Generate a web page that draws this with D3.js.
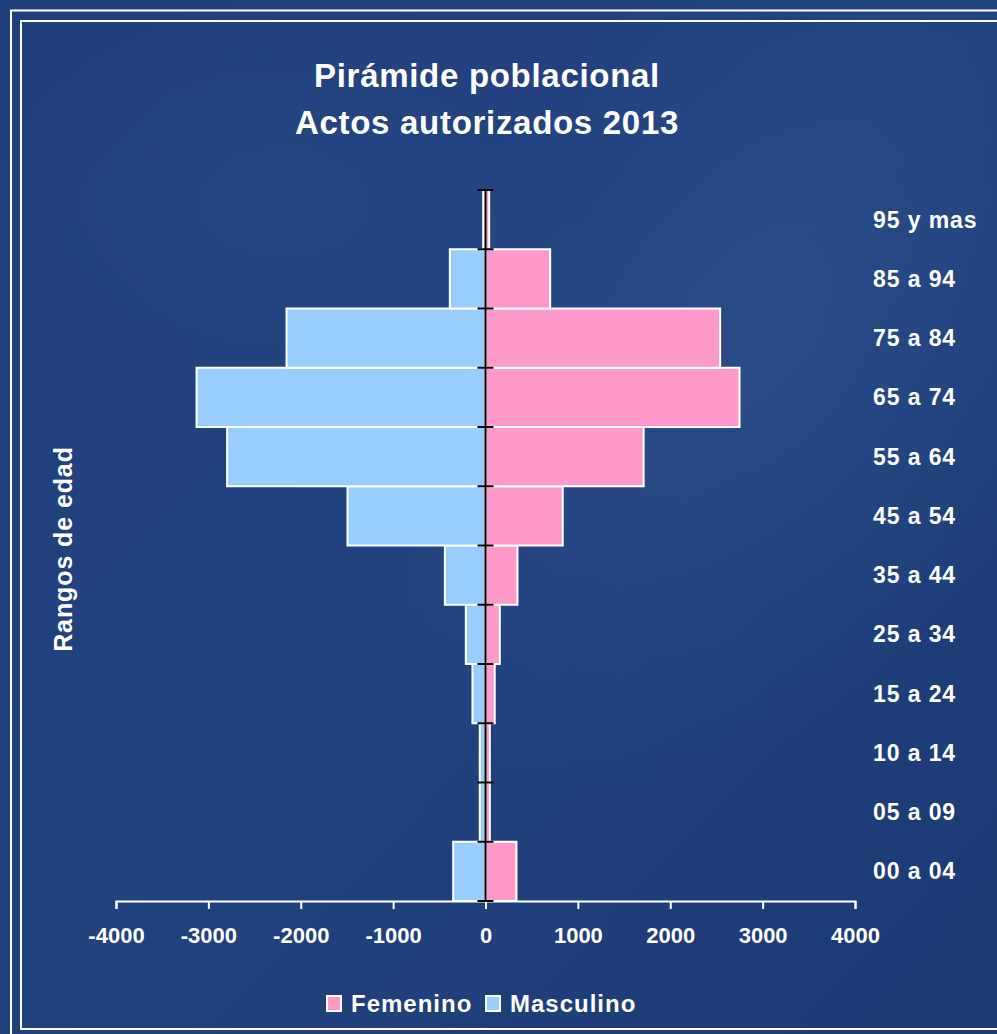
<!DOCTYPE html>
<html>
<head>
<meta charset="utf-8">
<script src="https://cdn.jsdelivr.net/npm/d3@7"></script>
<style>
html,body{margin:0;padding:0;background:#1f3d79;}
svg{display:block;}
text{font-family:"Liberation Sans",Arial,sans-serif;font-weight:bold;fill:#fff;}
</style>
</head>
<body>
<svg id="chart" width="997" height="1034"></svg>
<script>
const categories = ["00 a 04","05 a 09","10 a 14","15 a 24","25 a 34","35 a 44","45 a 54","55 a 64","65 a 74","75 a 84","85 a 94","95 y mas"];
const femenino  = [335, 47, 47, 100, 155, 346, 836, 1712, 2750, 2540, 700, 40];
const masculino = [-350, -62, -62, -141, -213, -440, -1494, -2797, -3128, -2154, -386, -25];
const xTicks = [-4000,-3000,-2000,-1000,0,1000,2000,3000,4000];
const titleLines = ["Pirámide poblacional","Actos autorizados 2013"];
const yTitle = "Rangos de edad";
const legendItems = [{name:"Femenino",color:"#ff99cc"},{name:"Masculino",color:"#99ccff"}];

const svg = d3.select("#chart");
const W = 997, H = 1034;

// background
const defs = svg.append("defs");
const lg = defs.append("linearGradient").attr("id","bg").attr("x1","0").attr("y1","0").attr("x2","1").attr("y2","1");
lg.append("stop").attr("offset","0").attr("stop-color","#213f7c");
lg.append("stop").attr("offset","0.5").attr("stop-color","#22427f");
lg.append("stop").attr("offset","1").attr("stop-color","#1c3a74");
svg.append("rect").attr("width",W).attr("height",H).attr("fill","url(#bg)");
const rg = defs.append("radialGradient").attr("id","swirl").attr("cx","0.5").attr("cy","0.5").attr("r","0.5");
rg.append("stop").attr("offset","0").attr("stop-color","#3a5f9c").attr("stop-opacity","0.35");
rg.append("stop").attr("offset","1").attr("stop-color","#3a5f9c").attr("stop-opacity","0");
svg.append("ellipse").attr("cx",760).attr("cy",330).attr("rx",330).attr("ry",520).attr("transform","rotate(35,760,330)").attr("fill","url(#swirl)");
svg.append("ellipse").attr("cx",280).attr("cy",200).attr("rx",300).attr("ry",200).attr("fill","url(#swirl)").attr("opacity",0.6);

// borders
svg.append("rect").attr("x",11).attr("y",10.5).attr("width",W+20).attr("height",H+20).attr("fill","none").attr("stroke","#fff").attr("stroke-width",2);
svg.append("rect").attr("x",21).attr("y",21).attr("width",W).attr("height",1008).attr("fill","none").attr("stroke","#fff").attr("stroke-width",2);

// scales
const x = d3.scaleLinear().domain([-4000,4000]).range([116,855]);
const y = d3.scaleBand().domain(categories.slice().reverse()).range([190,901]).padding(0);

// title
svg.append("g").selectAll("text").data(titleLines).join("text")
  .attr("x",487).attr("y",(d,i)=>87+i*47)
  .attr("text-anchor","middle").attr("font-size",33).attr("letter-spacing",0.7)
  .text(d=>d);

// bars
const rows = categories.map((c,i)=>({cat:c,f:femenino[i],m:masculino[i]}));
const g = svg.append("g");
g.selectAll("rect.m").data(rows).join("rect").attr("class","m")
  .attr("x",d=>x(d.m)).attr("y",d=>y(d.cat))
  .attr("width",d=>x(0)-x(d.m)).attr("height",y.bandwidth())
  .attr("fill","#99ccff").attr("stroke","#fff").attr("stroke-width",2);
g.selectAll("rect.f").data(rows).join("rect").attr("class","f")
  .attr("x",x(0)).attr("y",d=>y(d.cat))
  .attr("width",d=>x(d.f)-x(0)).attr("height",y.bandwidth())
  .attr("fill","#ff99cc").attr("stroke","#fff").attr("stroke-width",2);

// x axis
const xAxis = d3.axisBottom(x).tickValues(xTicks).tickSize(8).tickPadding(18).tickFormat(d=>String(d));
const ax = svg.append("g").attr("transform","translate(0,901)").call(xAxis);
ax.select(".domain").attr("stroke","#fff").attr("stroke-width",2);
ax.selectAll(".tick line").attr("stroke","#fff").attr("stroke-width",2);
ax.selectAll(".tick text").attr("font-size",22).attr("fill","#fff").attr("font-family","Liberation Sans, Arial, sans-serif").attr("font-weight","bold");

// center vertical axis
const cy = svg.append("g").attr("transform",`translate(${x(0)},0)`);
cy.append("line").attr("x1",0).attr("x2",0).attr("y1",190).attr("y2",901).attr("stroke","#000").attr("stroke-width",2);
const bounds = y.domain().map(c=>y(c)).concat([y.range()[1]]);
cy.selectAll("line.t").data(bounds).join("line").attr("class","t")
  .attr("x1",-8).attr("x2",8).attr("y1",d=>d).attr("y2",d=>d).attr("stroke","#000").attr("stroke-width",2);

// category labels on right
svg.append("g").selectAll("text").data(categories).join("text")
  .attr("x",873).attr("y",d=>y(d)+y.bandwidth()/2+8)
  .attr("font-size",23).attr("letter-spacing",0.9)
  .text(d=>d);

// y title
svg.append("text").attr("transform","translate(72,549) rotate(-90)")
  .attr("text-anchor","middle").attr("font-size",25).attr("letter-spacing",0.9)
  .text(yTitle);

// legend
const lgG = svg.append("g");
const legendX = [326,485];
legendItems.forEach((it,i)=>{
  lgG.append("rect").attr("x",legendX[i]+1).attr("y",996).attr("width",14).attr("height",15)
    .attr("fill",it.color).attr("stroke","#fff").attr("stroke-width",2);
  lgG.append("text").attr("x",legendX[i]+25).attr("y",1012).attr("font-size",24).attr("letter-spacing",1.0).text(it.name);
});
</script>
</body>
</html>
